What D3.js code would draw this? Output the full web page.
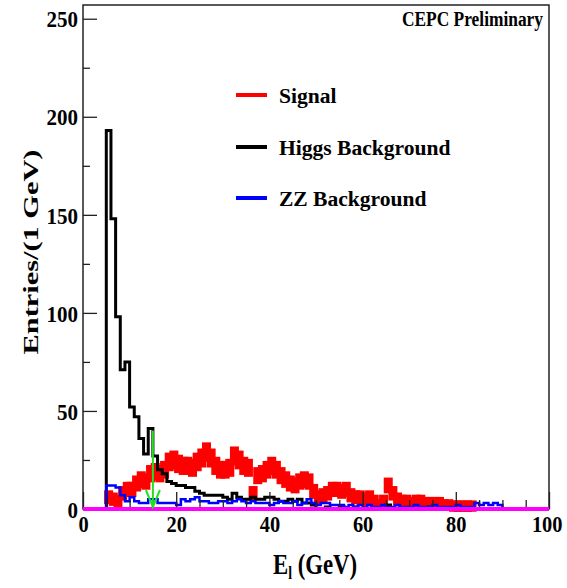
<!DOCTYPE html>
<html>
<head>
<meta charset="utf-8">
<script src="https://cdn.jsdelivr.net/npm/d3@7"></script>
<style>
  html, body { margin: 0; padding: 0; background: #fff; }
  svg { display: block; }
  text { font-family: "Liberation Serif", "Times New Roman", serif; font-weight: bold; }
</style>
</head>
<body>
<svg id="chart" width="567" height="588"></svg>
<script>
// Lepton energy spectra, 1 GeV bins; each array starts at the bin edge given by *Start
const signalStart = 5;
const signalValues = [6, 5, 4, 8, 10, 10, 13, 15, 14, 18, 19, 18, 20, 24, 25, 23, 22, 22, 21, 24,
  26, 29, 26, 22, 20, 20, 21, 27, 25, 22, 21, 8, 17, 18, 20, 22, 20, 17, 15, 13,
  12, 14, 15, 14, 9, 6, 7, 8, 10, 10, 9, 10, 7, 6, 6, 5, 6, 4, 2, 4,
  12, 8, 5, 4, 4, 3, 4, 4, 3, 3, 3, 3, 2, 2, 1.5, 1.5, 1.5, 1.5, 1.5];
const signalWeight = 0.25; // per-event weight, error = sqrt(w * content)

const higgsStart = 5;
const higgsValues = [193, 148, 98, 71, 75, 52, 47, 36, 28, 41, 27, 20, 18, 14, 13, 12, 12, 11, 11, 9,
  8, 7, 7, 7, 7, 6, 5, 8, 6, 5, 5, 6, 5, 5, 6, 6, 5, 4, 4, 5,
  4, 5, 3, 3, 2, 0, 0, 1, 0, 0, 1, 0, 0, 1, 0, 0, 0, 0, 0, 0, 2, 0, 0, 0, 0, 0, 0, 0, 0, 1];

const zzStart = 5;
const zzValues = [12, 12, 11, 7, 4, 6, 4, 3, 3, 5, 5, 3, 3, 3, 3, 2, 5, 4, 5, 6,
  4, 4, 3, 3, 4, 4, 3, 4, 5, 4, 3, 4, 3, 3, 3, 2, 3, 4, 3, 3,
  4, 2, 3, 5, 3, 2, 3, 3, 2, 2, 2, 1, 2, 1, 2, 1, 2, 1, 1, 2,
  1, 1, 2, 1, 1, 1, 2, 1, 1, 1, 2, 1, 1, 1, 1, 2, 1, 1, 1, 3,
  2, 3, 2, 3, 2];

const cutValue = 15;      // selection cut on E_l (GeV)
const cutArrowTop = 40;

const xTicks = [0, 20, 40, 60, 80, 100];
const yTicks = [0, 50, 100, 150, 200, 250];
const legendLabels = ["Signal", "Higgs Background", "ZZ Background"];
const legendColors = ["#ff0000", "#000000", "#0000ff"];

const svg = d3.select("#chart");
const plot = { left: 83, right: 549, top: 5, bottom: 509 };

const x = d3.scaleLinear().domain([0, 100]).range([plot.left, plot.right]);
const y = d3.scaleLinear().domain([0, 257]).range([plot.bottom, plot.top]);

// step outline of a histogram across the full axis range
function stepPath(start, values) {
  const p = d3.path();
  p.moveTo(x(0), y(0));
  p.lineTo(x(start), y(0));
  values.forEach((v, i) => {
    p.lineTo(x(start + i), y(v));
    p.lineTo(x(start + i + 1), y(v));
  });
  p.lineTo(x(start + values.length), y(0));
  p.lineTo(x(100), y(0));
  return p.toString();
}

// signal: thick error-bar markers per bin
const lw = 9;
const sig = svg.append("g").attr("fill", "#ff0000");
signalValues.forEach((v, i) => {
  const e0 = signalStart + i;
  const err = Math.sqrt(signalWeight * v);
  sig.append("rect")
    .attr("x", x(e0)).attr("width", x(e0 + 1) - x(e0))
    .attr("y", y(v) - lw / 2).attr("height", lw);
  const cx = x(e0 + 0.5);
  sig.append("rect")
    .attr("x", cx - lw / 2).attr("width", lw)
    .attr("y", y(v + err) - lw / 2).attr("height", y(v - err) - y(v + err) + lw);
});

svg.append("path").attr("d", stepPath(higgsStart, higgsValues))
  .attr("fill", "none").attr("stroke", "#000").attr("stroke-width", 3)
  .attr("stroke-linejoin", "miter");

svg.append("path").attr("d", stepPath(zzStart, zzValues))
  .attr("fill", "none").attr("stroke", "#0000ff").attr("stroke-width", 2.5);

// axes
const yMajor = d3.axisLeft(y).tickValues(yTicks).tickSize(-14).tickPadding(5).tickFormat(d3.format("d"));
const yMinor = d3.axisLeft(y).tickValues(d3.range(25, 257, 50)).tickSize(-7).tickFormat("");
const xMajor = d3.axisBottom(x).tickValues(xTicks).tickSize(-17).tickPadding(6).tickFormat(d3.format("d"));
const xMinor = d3.axisBottom(x).tickValues(d3.range(5, 100, 5).filter(v => v % 20 !== 0)).tickSize(-9).tickFormat("");

function styleAxis(g) {
  g.select(".domain").remove();
  g.selectAll(".tick line").attr("stroke", "#222").attr("stroke-width", 1.3);
  g.selectAll("text").attr("fill", "#000").style("font-size", "24px");
}

svg.append("g").attr("transform", `translate(${plot.left},0)`).call(yMajor).call(styleAxis)
  .selectAll("text").attr("dy", "0.34em").attr("textLength", d => String(d).length * 10.5).attr("lengthAdjust", "spacingAndGlyphs");
svg.append("g").attr("transform", `translate(${plot.left},0)`).call(yMinor).call(styleAxis);
svg.append("g").attr("transform", `translate(0,${plot.bottom})`).call(xMajor).call(styleAxis)
  .selectAll("text").attr("dy", "0.72em").attr("textLength", d => String(d).length * 10.2).attr("lengthAdjust", "spacingAndGlyphs")
  .attr("text-anchor", d => d === 100 ? "end" : "middle")
  .attr("x", d => d === 100 ? 13 : 0);
svg.append("g").attr("transform", `translate(0,${plot.bottom})`).call(xMinor).call(styleAxis);

// frame
svg.append("rect")
  .attr("x", plot.left).attr("y", plot.top)
  .attr("width", plot.right - plot.left).attr("height", plot.bottom - plot.top)
  .attr("fill", "none").attr("stroke", "#222").attr("stroke-width", 1.5);

// empty histogram along zero
svg.append("line")
  .attr("x1", x(0)).attr("x2", x(100)).attr("y1", y(0)).attr("y2", y(0))
  .attr("stroke", "#ff00ff").attr("stroke-width", 4);

// cut arrow
const ax = x(cutValue);
const arrow = svg.append("g").attr("stroke", "#22e022").attr("stroke-width", 2).attr("fill", "none");
arrow.append("line").attr("x1", ax).attr("x2", ax).attr("y1", y(cutArrowTop)).attr("y2", y(0) - 2);
arrow.append("path").attr("d", `M${ax - 7},${y(0) - 19} L${ax},${y(0) - 2} L${ax + 7},${y(0) - 19}`);

// titles
svg.append("text").attr("x", 402).attr("y", 26).style("font-size", "20px")
  .attr("textLength", 141).attr("lengthAdjust", "spacingAndGlyphs").text("CEPC Preliminary");

svg.append("text")
  .attr("transform", "translate(38,252) rotate(-90)")
  .attr("text-anchor", "middle").style("font-size", "21px")
  .attr("textLength", 205).attr("lengthAdjust", "spacingAndGlyphs")
  .text("Entries/(1 GeV)");

const xt = svg.append("text").attr("transform", "translate(273,574) scale(0.76,1)").style("font-size", "30px");
xt.append("tspan").text("E");
xt.append("tspan").attr("dy", 5).style("font-size", "18px").text("l");
xt.append("tspan").attr("dy", -5).text(" (GeV)");

// legend
const legRows = [95, 147, 198];
legendLabels.forEach((lab, i) => {
  svg.append("line")
    .attr("x1", 236).attr("x2", 267).attr("y1", legRows[i]).attr("y2", legRows[i])
    .attr("stroke", legendColors[i]).attr("stroke-width", 4);
  svg.append("text").attr("x", 279).attr("y", legRows[i] + 8).style("font-size", "22px")
    .attr("transform", `translate(279,0) scale(0.98,1) translate(-279,0)`).text(lab);
});
</script>
</body>
</html>
